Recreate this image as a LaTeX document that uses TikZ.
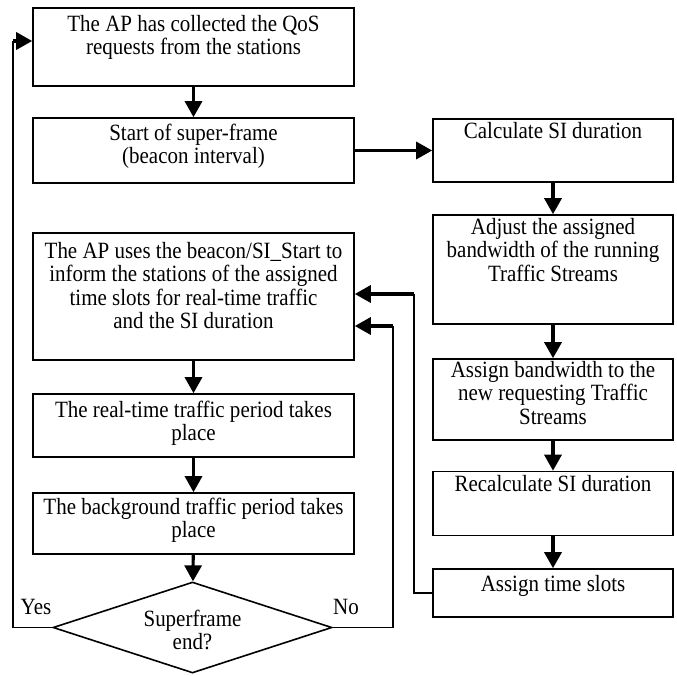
\documentclass[tikz,border=0pt]{standalone}
\usepackage{fontspec}
\setmainfont{Liberation Serif}[FakeStretch=0.9]
\usetikzlibrary{arrows.meta,shapes.geometric}
\newcommand\fs{\fontsize{23.3}{23.5}\selectfont}
\newcommand\bx[4]{\parbox[c][#2pt][t]{#1pt}{\vspace*{#3pt}\centering #4\par}}
\tikzset{
  box/.style={draw, line width=1.6pt, inner sep=0pt, font=\fs},
  arr/.style={line width=3.2pt, -{Triangle[length=16pt,width=17pt]}},
  thinline/.style={line width=1.5pt},
  lbl/.style={font=\fs, inner sep=0pt},
}
\begin{document}
\begin{tikzpicture}[x=1pt,y=-1pt]
\useasboundingbox (0,0) rectangle (677,675);
% left column
\node[box] (b1) at (193.5,47) {\bx{321}{78}{7}{The AP has collected the QoS\\requests from the stations}};
\node[box] (b2) at (193.5,150.5) {\bx{321}{65}{6}{Start of super-frame\\(beacon interval)}};
\node[box] (ap) at (193.5,296.5) {\bx{321}{127}{9}{The AP uses the beacon/SI\_Start to\\inform the stations of the assigned\\time slots for real-time traffic\\and the SI duration}};
\node[box] (rt) at (193.5,425.5) {\bx{321}{63}{7}{The real-time traffic period takes\\place}};
\node[box] (bg) at (193.5,523.5) {\bx{321}{61}{5}{The background traffic period takes\\place}};
\node[draw, line width=1.6pt, shape=diamond, inner sep=0pt, minimum width=279pt, minimum height=91pt] (dia) at (192.5,627.5) {};
\node[lbl, align=center] (diatxt) at (192.5,630) {Superframe\\end?};
% right column
\node[box] (calc) at (553,150.5) {\bx{240}{63}{3}{Calculate SI duration}};
\node[box] (adj) at (553,269.5) {\bx{240}{109}{3}{Adjust the assigned\\bandwidth of the running\\Traffic Streams}};
\node[box] (abw) at (553,399.5) {\bx{240}{81}{2}{Assign bandwidth to the\\new requesting Traffic\\Streams}};
\node[box] (rc) at (553,503.5) {\bx{240}{64}{4}{Recalculate SI duration}};
\node[box] (ats) at (553,593) {\bx{240}{48}{6}{Assign time slots}};
% labels
\node[lbl] (yes) at (36,607) {Yes};
\node[lbl] (no) at (346,607) {No};
% corner coordinates
\coordinate (c1) at (414,294);
\coordinate (c2) at (393,326);
\coordinate (c3) at (13,41);
% main arrows
\draw[arr] (b1) -- (b2);
\draw[arr] (b2) -- (calc);
\draw[arr] (calc) -- (adj);
\draw[arr] (adj) -- (abw);
\draw[arr] (abw) -- (rc);
\draw[arr] (rc) -- (ats);
\draw[arr] (ap) -- (rt);
\draw[arr] (rt) -- (bg);
\draw[arr] (bg) -- (dia);
% feedback
\draw[thinline] (ats.west) -| (c1);
\draw[arr] (c1) -- (ap.east |- c1);
\draw[thinline] (dia.east) -| (c2);
\draw[arr] (c2) -- (ap.east |- c2);
\draw[thinline] (dia.west) -| (c3);
\draw[arr] (c3) -- (b1.west |- c3);
\end{tikzpicture}
\end{document}
